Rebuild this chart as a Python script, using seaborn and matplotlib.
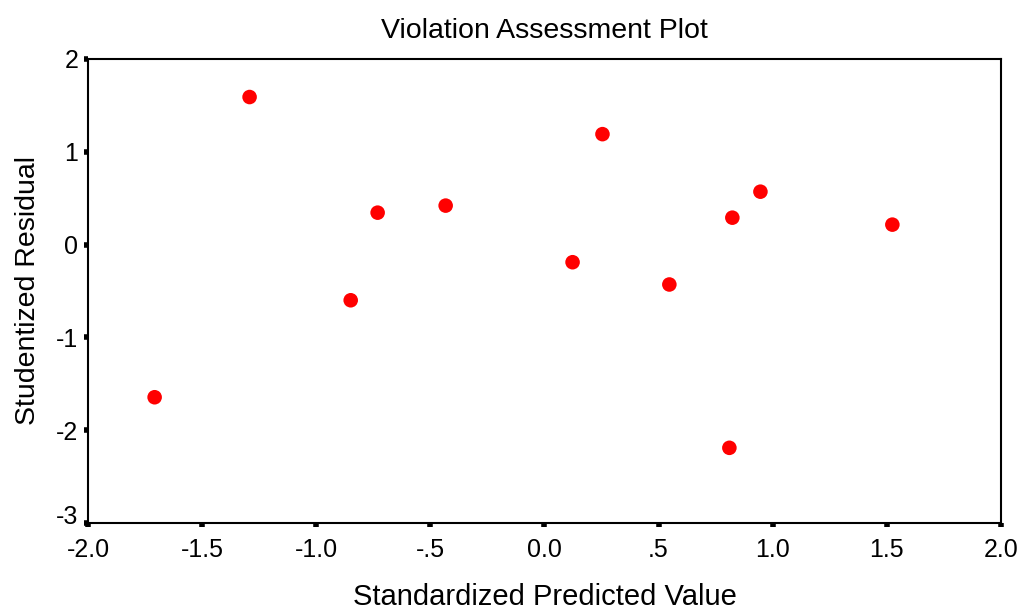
import matplotlib
matplotlib.use("Agg")
import matplotlib.pyplot as plt
import matplotlib.transforms as mtransforms
import seaborn as sns
import pandas as pd

pred = [-1.708, -1.292, -0.849, -0.731, -0.433, 0.123, 0.254, 0.547, 0.823, 0.810, 0.946, 1.524]
resid = [-1.645, 1.59, -0.60, 0.344, 0.42, -0.19, 1.19, -0.43, 0.29, -2.19, 0.57, 0.215]
xticks = [-2.0, -1.5, -1.0, -0.5, 0.0, 0.5, 1.0, 1.5, 2.0]
xticklabels = ["-2.0", "-1.5", "-1.0", "-.5", "0.0", ".5", "1.0", "1.5", "2.0"]
yticks = [-3, -2, -1, 0, 1, 2]
yticklabels = ["-3", "-2", "-1", "0", "1", "2"]

df = pd.DataFrame({"pred": pred, "resid": resid})

sns.set_style("white")
plt.rcParams["font.family"] = ["Liberation Sans", "DejaVu Sans"]
plt.rcParams["text.color"] = "black"
plt.rcParams["axes.labelcolor"] = "black"
plt.rcParams["xtick.color"] = "black"
plt.rcParams["ytick.color"] = "black"

fig = plt.figure(figsize=(10.23, 6.15), dpi=100)
ax = fig.add_axes([0.086, 0.1496, 0.8925, 0.7545])
sns.scatterplot(data=df, x="pred", y="resid", ax=ax, color="#ff0000",
                s=110, edgecolor="none", linewidth=0)
ax.set_xlim(-2.0, 2.0)
ax.set_ylim(-3, 2)
ax.set_xticks(xticks)
ax.set_xticklabels(xticklabels, fontsize=18)
ax.set_yticks(yticks)
ax.set_yticklabels(yticklabels, fontsize=18)
ax.tick_params(axis="both", which="major", bottom=True, left=True,
               direction="out", length=3, width=4, color="black",
               labelcolor="black")
ax.tick_params(axis="x", pad=8)
ax.tick_params(axis="y", pad=4)
# lowest y label sits slightly raised, as in the reference
lbl = ax.get_yticklabels()[0]
lbl.set_transform(lbl.get_transform() + mtransforms.ScaledTranslation(0, 8 / 100, fig.dpi_scale_trans))
for s in ax.spines.values():
    s.set_color("black")
    s.set_linewidth(1.5)
ax.set_xlabel("Standardized Predicted Value", fontsize=21, labelpad=15, color="black")
ax.set_ylabel("Studentized Residual", fontsize=20.5, labelpad=11, color="black")
ax.set_title("Violation Assessment Plot", fontsize=20.5, pad=15, color="black")
fig.savefig("out.png", dpi=100)
